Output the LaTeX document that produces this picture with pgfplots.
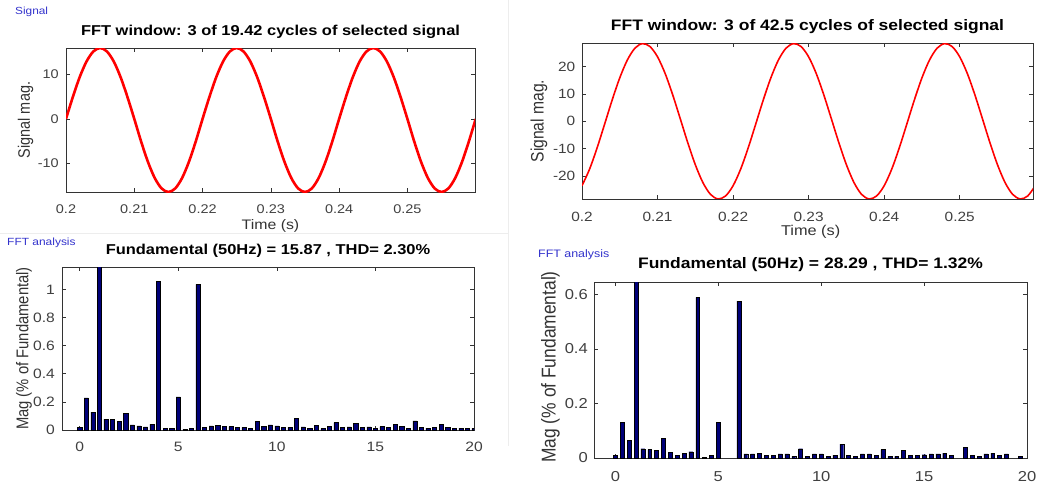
\documentclass[border=0pt]{standalone}
\usepackage{pgfplots}
\pgfplotsset{compat=1.18}
\usepackage{pgfplotstable}
\usepackage{fontspec}
\setmainfont[FakeStretch=1.15]{Liberation Sans}
\newfontfamily\rotfont[FakeStretch=0.87]{Liberation Sans}
\definecolor{axcol}{rgb}{0.2,0.2,0.2}
\definecolor{tickcol}{rgb}{0.25,0.25,0.25}
\definecolor{barcol}{rgb}{0,0,0.47}
\definecolor{sigblue}{rgb}{0.2,0.2,0.8}
\definecolor{sigred}{rgb}{1,0,0}

\pgfplotstableread{
x y
0 0.02
0.3333 0.228
0.6667 0.127
1 100
1.3333 0.077
1.6667 0.077
2 0.062
2.3333 0.118
2.6667 0.036
3 0.029
3.3333 0.022
3.6667 0.041
4 1.06
4.3333 0.012
4.6667 0.012
5 0.235
5.3333 0.005
5.6667 0.012
6 1.036
6.3333 0.017
6.6667 0.029
7 0.034
7.3333 0.026
7.6667 0.024
8 0.019
8.3333 0.019
8.6667 0.014
9 0.06
9.3333 0.024
9.6667 0.036
10 0.029
10.3333 0.019
10.6667 0.019
11 0.084
11.3333 0.022
11.6667 0.012
12 0.034
12.3333 0.01
12.6667 0.024
13 0.053
13.3333 0.019
13.6667 0.022
14 0.046
14.3333 0.019
14.6667 0.022
15 0.014
15.3333 0.024
15.6667 0.019
16 0.041
16.3333 0.026
16.6667 0.01
17 0.065
17.3333 0.019
17.6667 0.014
18 0.019
18.3333 0.041
18.6667 0.019
19 0.014
19.3333 0.014
19.6667 0.014
20 0.012
}\fftleft

\pgfplotstableread{
x y
0 0.009
0.3333 0.13
0.6667 0.066
1 100
1.3333 0.034
1.6667 0.031
2 0.027
2.3333 0.071
2.6667 0.022
3 0.011
3.3333 0.018
3.6667 0.023
4 0.589
4.3333 0.002
4.6667 0.01
5 0.13
6 0.575
6.3333 0.015
6.6667 0.015
7 0.017
7.3333 0.011
7.6667 0.01
8 0.015
8.3333 0.015
8.6667 0.006
9 0.034
9.3333 0.006
9.6667 0.015
10 0.015
10.3333 0.006
10.6667 0.011
11 0.051
11.3333 0.01
11.6667 0.005
12 0.015
12.3333 0.015
12.6667 0.01
13 0.031
13.3333 0.006
13.6667 0.006
14 0.029
14.3333 0.01
14.6667 0.01
15 0.012
15.3333 0.015
15.6667 0.015
16 0.018
16.3333 0.01
17 0.039
17.3333 0.01
17.6667 0.006
18 0.015
18.3333 0.018
18.6667 0.01
19 0.015
19.6667 0.005
}\fftright

\pgfplotsset{
  mybase/.style={
    scale only axis, anchor=north west,
    axis line style={draw=axcol, line width=0.8bp},
    every tick/.style={draw=axcol, line width=0.6bp},
    major tick length=4bp,
    tick label style={text=tickcol},
    /pgf/number format/assume math mode=true,
    scaled ticks=false,
    title style={at={(axis description cs:0.5,1)}, anchor=base, text=black},
    xticklabel style={anchor=base, inner sep=0pt},
    yticklabel style={anchor=east, inner sep=0pt},
    ylabel style={anchor=center, text=axcol},
    xlabel style={anchor=base, text=axcol},
  },
}

\begin{document}
\begin{tikzpicture}
\path[use as bounding box] (0,0) rectangle (1041bp,-486bp);
\draw[color=black!7, line width=0.8bp] (508bp,0) -- (508bp,-446bp);
\draw[color=black!7, line width=0.8bp] (0,-233bp) -- (508bp,-233bp);

\node[anchor=base west, inner sep=0pt, text=sigblue, font=\fontsize{10.3bp}{12bp}\selectfont] at (15bp,-14.5bp) {Signal};
\node[anchor=base west, inner sep=0pt, text=sigblue, font=\fontsize{10.4bp}{12bp}\selectfont] at (7bp,-245.5bp) {FFT analysis};
\node[anchor=base west, inner sep=0pt, text=sigblue, font=\fontsize{10.8bp}{12bp}\selectfont] at (538bp,-257.5bp) {FFT analysis};

% Top-left signal
\begin{axis}[mybase,
  at={(66bp,-48bp)}, width=409bp, height=144bp,
  xmin=0.2, xmax=0.2599, ymin=-16.4, ymax=15.9,
  xtick={0.2,0.21,0.22,0.23,0.24,0.25},
  xticklabels={0.2,0.21,0.22,0.23,0.24,0.25},
  ytick={-10,0,10}, yticklabels={-10,0,10},
  tick label style={font=\fontsize{12.6bp}{15bp}\selectfont},
  xticklabel style={yshift=-21.5bp},
  yticklabel style={xshift=-7bp},
  title={FFT window: 3 of 19.42 cycles of selected signal},
  title style={yshift=6.3bp, font=\bfseries\fontsize{14.3bp}{17bp}\selectfont},
  xlabel={Time (s)},
  xlabel style={at={(axis description cs:0.5,-0.257)}, font=\fontsize{13.8bp}{16bp}\selectfont},
  ylabel={Signal mag.},
  ylabel style={at={(axis description cs:-0.099,0.5)}, font=\rotfont\fontsize{16.6bp}{19bp}\selectfont},
]
\addplot[sigred, line width=2.6bp, smooth] coordinates {
(0.200,0) (0.201,4.91) (0.202,9.35) (0.203,12.86) (0.204,15.12) (0.205,15.9) (0.206,15.12) (0.207,12.86) (0.208,9.35) (0.209,4.91)
(0.210,0) (0.211,-5.07) (0.212,-9.64) (0.213,-13.27) (0.214,-15.60) (0.215,-16.4) (0.216,-15.60) (0.217,-13.27) (0.218,-9.64) (0.219,-5.07)
(0.220,0) (0.221,4.91) (0.222,9.35) (0.223,12.86) (0.224,15.12) (0.225,15.9) (0.226,15.12) (0.227,12.86) (0.228,9.35) (0.229,4.91)
(0.230,0) (0.231,-5.07) (0.232,-9.64) (0.233,-13.27) (0.234,-15.60) (0.235,-16.4) (0.236,-15.60) (0.237,-13.27) (0.238,-9.64) (0.239,-5.07)
(0.240,0) (0.241,4.91) (0.242,9.35) (0.243,12.86) (0.244,15.12) (0.245,15.9) (0.246,15.12) (0.247,12.86) (0.248,9.35) (0.249,4.91)
(0.250,0) (0.251,-5.07) (0.252,-9.64) (0.253,-13.27) (0.254,-15.60) (0.255,-16.4) (0.256,-15.60) (0.257,-13.27) (0.258,-9.64) (0.259,-5.07) (0.260,0)
};
\end{axis}

% Top-right signal
\begin{axis}[mybase,
  at={(582bp,-43bp)}, width=451bp, height=156bp,
  xmin=0.2, xmax=0.2597, ymin=-28.4, ymax=28.6,
  xtick={0.2,0.21,0.22,0.23,0.24,0.25},
  xticklabels={0.2,0.21,0.22,0.23,0.24,0.25},
  ytick={-20,-10,0,10,20}, yticklabels={-20,-10,0,10,20},
  tick label style={font=\fontsize{13.4bp}{15bp}\selectfont},
  xticklabel style={yshift=-22.7bp},
  yticklabel style={xshift=-6.5bp},
  title={FFT window: 3 of 42.5 cycles of selected signal},
  title style={yshift=6.6bp, font=\bfseries\fontsize{15.2bp}{18bp}\selectfont},
  xlabel={Time (s)},
  xlabel style={at={(axis description cs:0.507,-0.236)}, font=\fontsize{14.2bp}{17bp}\selectfont},
  ylabel={Signal mag.},
  ylabel style={at={(axis description cs:-0.0953,0.5)}, font=\rotfont\fontsize{18bp}{20bp}\selectfont},
]
\addplot[sigred, line width=1.6bp, smooth] coordinates {
(0.200,-23.54) (0.201,-17.49) (0.202,-9.71) (0.203,-0.99) (0.204,7.83) (0.205,15.88) (0.206,22.38) (0.207,26.69) (0.208,28.38) (0.209,27.30)
(0.210,23.54) (0.211,17.49) (0.212,9.71) (0.213,0.99) (0.214,-7.83) (0.215,-15.88) (0.216,-22.38) (0.217,-26.69) (0.218,-28.38) (0.219,-27.30)
(0.220,-23.54) (0.221,-17.49) (0.222,-9.71) (0.223,-0.99) (0.224,7.83) (0.225,15.88) (0.226,22.38) (0.227,26.69) (0.228,28.38) (0.229,27.30)
(0.230,23.54) (0.231,17.49) (0.232,9.71) (0.233,0.99) (0.234,-7.83) (0.235,-15.88) (0.236,-22.38) (0.237,-26.69) (0.238,-28.38) (0.239,-27.30)
(0.240,-23.54) (0.241,-17.49) (0.242,-9.71) (0.243,-0.99) (0.244,7.83) (0.245,15.88) (0.246,22.38) (0.247,26.69) (0.248,28.38) (0.249,27.30)
(0.250,23.54) (0.251,17.49) (0.252,9.71) (0.253,0.99) (0.254,-7.83) (0.255,-15.88) (0.256,-22.38) (0.257,-26.69) (0.258,-28.38) (0.259,-27.30) (0.260,-23.54)
};
\end{axis}

% Bottom-left FFT
\begin{axis}[mybase,
  at={(62bp,-267bp)}, width=412bp, height=163bp,
  xmin=-0.9, xmax=20, ymin=0, ymax=1.16,
  xtick={0,5,10,15,20}, xticklabels={0,5,10,15,20},
  ytick={0,0.2,0.4,0.6,0.8,1}, yticklabels={0,0.2,0.4,0.6,0.8,1},
  tick label style={font=\fontsize{13.6bp}{16bp}\selectfont},
  xticklabel style={yshift=-21bp},
  yticklabel style={xshift=-7bp},
  title={Fundamental (50Hz) = 15.87 , THD= 2.30\%},
  title style={yshift=6.3bp, font=\bfseries\fontsize{14.3bp}{17bp}\selectfont},
  ylabel={Mag (\% of Fundamental)},
  ylabel style={at={(axis description cs:-0.0922,0.5)}, font=\rotfont\fontsize{17bp}{19bp}\selectfont},
]
\addplot[ybar, bar width=0.21, fill=barcol, draw=black, line width=0.4bp, restrict y to domain*=0:2] table[x=x,y=y] {\fftleft};
\end{axis}

% Bottom-right FFT
\begin{axis}[mybase,
  at={(594bp,-282bp)}, width=433bp, height=176bp,
  xmin=-1.04, xmax=20, ymin=0, ymax=0.645,
  xtick={0,5,10,15,20}, xticklabels={0,5,10,15,20},
  ytick={0,0.2,0.4,0.6}, yticklabels={0,0.2,0.4,0.6},
  tick label style={font=\fontsize{14.4bp}{17bp}\selectfont},
  xticklabel style={yshift=-23bp},
  yticklabel style={xshift=-6bp},
  title={Fundamental (50Hz) = 28.29 , THD= 1.32\%},
  title style={yshift=8bp, font=\bfseries\fontsize{15.2bp}{18bp}\selectfont},
  ylabel={Mag (\% of Fundamental)},
  ylabel style={at={(axis description cs:-0.1005,0.517)}, font=\rotfont\fontsize{20bp}{22bp}\selectfont},
]
\addplot[ybar, bar width=0.19, fill=barcol, draw=black, line width=0.4bp, restrict y to domain*=0:1] table[x=x,y=y] {\fftright};
\end{axis}
\end{tikzpicture}
\end{document}
